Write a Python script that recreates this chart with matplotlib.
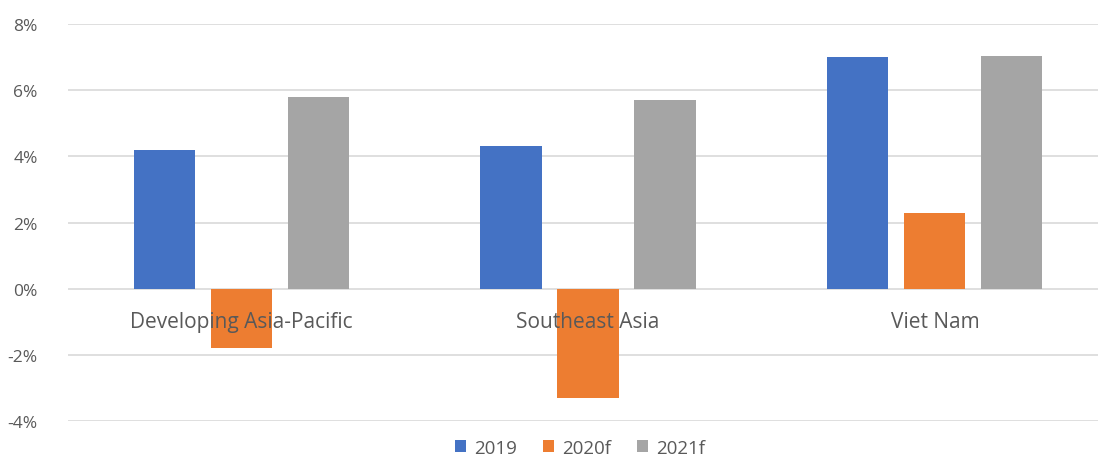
import matplotlib.pyplot as plt
import numpy as np
from matplotlib.ticker import FuncFormatter

regions = ['Developing Asia-Pacific', 'Southeast Asia', 'Viet Nam']
years = ['2019', '2020f', '2021f']
growth_2019 = [4.2, 4.3, 7.0]
growth_2020f = [-1.8, -3.3, 2.3]
growth_2021f = [5.8, 5.7, 7.05]
colors = ['#4472C4', '#ED7D31', '#A5A5A5']

plt.rcParams['font.family'] = ['Open Sans', 'DejaVu Sans']
text_col = '#595959'

fig = plt.figure(figsize=(10.98, 4.56), dpi=100)
ax = fig.add_axes([0.062, 0.0746, 0.938, 0.8704])

x = np.arange(len(regions))
width = 0.176
step = 0.222
for i, (vals, lab, c) in enumerate(zip([growth_2019, growth_2020f, growth_2021f], years, colors)):
    ax.bar(x + (i - 1) * step, vals, width, color=c, label=lab, zorder=3)

ax.set_ylim(-4, 8)
ax.set_yticks(np.arange(-4, 9, 2))
ax.yaxis.set_major_formatter(FuncFormatter(lambda v, p: f'{v:.0f}%'))
ax.set_xlim(-0.4986, 2.47)
ax.set_xticks([])
ax.grid(axis='y', color='#d9d9d9', linewidth=1.2, zorder=0)
for s in ax.spines.values():
    s.set_visible(False)
ax.tick_params(axis='y', length=0, pad=22, labelsize=12.5, labelcolor=text_col)

for i, name in enumerate(regions):
    ax.annotate(name, (x[i], 0), xytext=(0, -31), textcoords='offset points',
                ha='center', va='bottom', fontsize=15, color=text_col, zorder=4)

ax.legend(loc='upper center', bbox_to_anchor=(0.497, -0.012), ncol=3, frameon=False,
          fontsize=13.5, labelcolor=text_col, handlelength=0.6, handleheight=0.6,
          handletextpad=0.4, columnspacing=1.4, borderpad=0.2)

fig.savefig('out.png', dpi=100)
